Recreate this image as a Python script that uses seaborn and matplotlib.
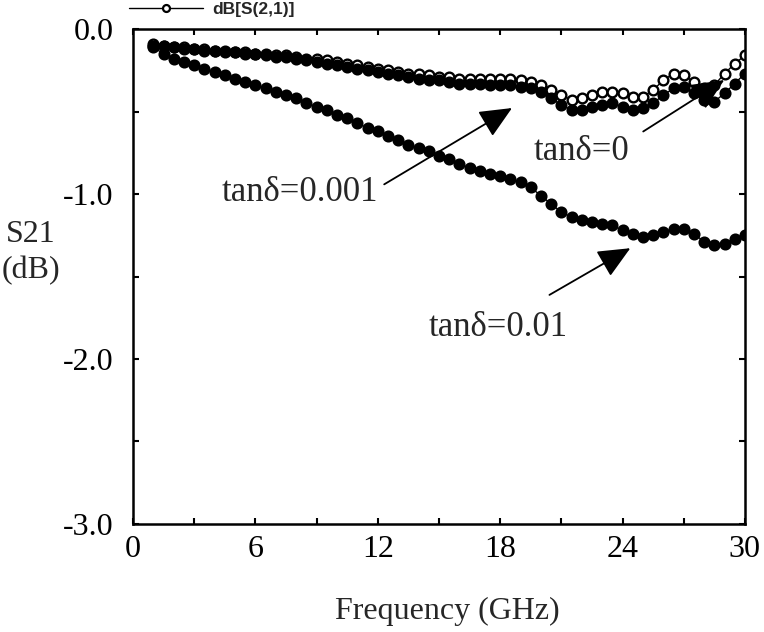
import numpy as np
import pandas as pd
import matplotlib
matplotlib.use("Agg")
import matplotlib.pyplot as plt
import seaborn as sns
from matplotlib.lines import Line2D

# frequency grid (GHz), one marker every 0.5 GHz
freq = np.arange(1.0, 30.01, 0.5)

# S21 (dB)
s21_tan0 = [-0.09, -0.10, -0.11, -0.11, -0.12, -0.12, -0.13, -0.13, -0.14, -0.14,
            -0.15, -0.15, -0.16, -0.16, -0.17, -0.18, -0.18, -0.19, -0.20, -0.21,
            -0.22, -0.23, -0.24, -0.25, -0.26, -0.27, -0.27, -0.28, -0.29, -0.29,
            -0.30, -0.30, -0.30, -0.30, -0.30, -0.30, -0.31, -0.32, -0.34, -0.37,
            -0.40, -0.43, -0.42, -0.40, -0.38, -0.38, -0.39, -0.41, -0.41, -0.37,
            -0.31, -0.27, -0.28, -0.32, -0.36, -0.34, -0.27, -0.21, -0.16]
s21_tan0001 = [-0.10, -0.10, -0.11, -0.12, -0.12, -0.13, -0.13, -0.14, -0.14, -0.15,
               -0.15, -0.16, -0.17, -0.17, -0.18, -0.19, -0.20, -0.21, -0.22, -0.23,
               -0.24, -0.25, -0.26, -0.27, -0.28, -0.29, -0.30, -0.31, -0.31, -0.32,
               -0.33, -0.33, -0.33, -0.34, -0.34, -0.34, -0.35, -0.36, -0.38, -0.42,
               -0.46, -0.49, -0.49, -0.47, -0.46, -0.45, -0.47, -0.49, -0.48, -0.45,
               -0.40, -0.36, -0.35, -0.39, -0.43, -0.44, -0.39, -0.33, -0.27]
s21_tan001 = [-0.11, -0.15, -0.18, -0.20, -0.22, -0.24, -0.26, -0.28, -0.30, -0.32,
              -0.34, -0.36, -0.38, -0.40, -0.42, -0.45, -0.47, -0.49, -0.52, -0.54,
              -0.57, -0.60, -0.62, -0.65, -0.67, -0.70, -0.72, -0.74, -0.77, -0.79,
              -0.82, -0.84, -0.86, -0.88, -0.89, -0.91, -0.93, -0.96, -1.01, -1.06,
              -1.11, -1.14, -1.16, -1.17, -1.18, -1.19, -1.22, -1.24, -1.26, -1.25,
              -1.23, -1.21, -1.21, -1.24, -1.29, -1.31, -1.30, -1.27, -1.25]

x_ticks = [0, 6, 12, 18, 24, 30]
y_ticks = [-3.0, -2.0, -1.0, 0.0]
y_ticklabels = ["-3.0", "-2.0", "-1.0", "0.0"]

# annotation labels: text, text position, arrow tail, arrow tip
notes = [
    ("tan\u03b4=0", (22.0, -0.74), (24.9, -0.63), (29.1, -0.30)),
    ("tan\u03b4=0.001", (8.2, -0.99), (12.2, -0.95), (18.7, -0.47)),
    ("tan\u03b4=0.01", (17.9, -1.81), (20.3, -1.62), (24.5, -1.32)),
]

sns.set_theme(style="ticks")
plt.rcParams["font.family"] = ["Liberation Serif", "DejaVu Serif"]
plt.rcParams["axes.unicode_minus"] = False

fig = plt.figure(figsize=(7.64, 6.32), dpi=100)
ax = fig.add_axes([0.174, 0.171, 0.801, 0.783])

series = [(s21_tan0, "white"), (s21_tan0001, "black"), (s21_tan001, "black")]
for vals, face in series:
    sns.lineplot(x=freq, y=vals, ax=ax, color="black", linewidth=1.0,
                 marker="o", markersize=7, markerfacecolor=face,
                 markeredgecolor="black", markeredgewidth=1.7, legend=False)

ax.set_xlim(0, 30)
ax.set_ylim(-3, 0)
ax.set_xticks(x_ticks)
ax.set_xticklabels([str(t) for t in x_ticks])
ax.set_xticks(np.arange(3, 30, 6), minor=True)
ax.set_yticks(y_ticks)
ax.set_yticklabels(y_ticklabels)
ax.set_yticks(np.arange(-2.5, 0, 1.0), minor=True)
ax.tick_params(which="both", direction="in", length=4, width=1.5,
               top=True, right=True, labelsize=23, colors="black")
ax.tick_params(axis="x", pad=8)
ax.tick_params(axis="y", pad=14)
for sp in ax.spines.values():
    sp.set_linewidth(1.8)
    sp.set_color("black")
ax.set_xlabel("")
ax.set_ylabel("")

for text, tpos, tail, tip in notes:
    ax.text(tpos[0], tpos[1], text, fontsize=25, ha="center", va="center")
    ax.annotate("", xy=tip, xytext=tail,
                arrowprops=dict(arrowstyle="-|>,head_length=1.0,head_width=0.45",
                                mutation_scale=20, color="black", lw=1.3))

fig.text(0.04, 0.60, "S21\n(dB)", fontsize=23, ha="center", va="center",
         linespacing=1.3)
fig.text(0.585, 0.032, "Frequency (GHz)", fontsize=23, ha="center", va="center")

handle = Line2D([], [], color="black", lw=1.0, marker="o", markersize=5,
                markerfacecolor="white", markeredgecolor="black", markeredgewidth=1.6)
fig.legend([handle], ["dB[S(2,1)]"], loc="center left", bbox_to_anchor=(0.157, 0.985),
           frameon=False, handlelength=4.3, borderpad=0, handletextpad=0.5,
           prop={"family": "Liberation Sans", "size": 12.5, "weight": "bold"})

fig.savefig("out.png", dpi=100)
